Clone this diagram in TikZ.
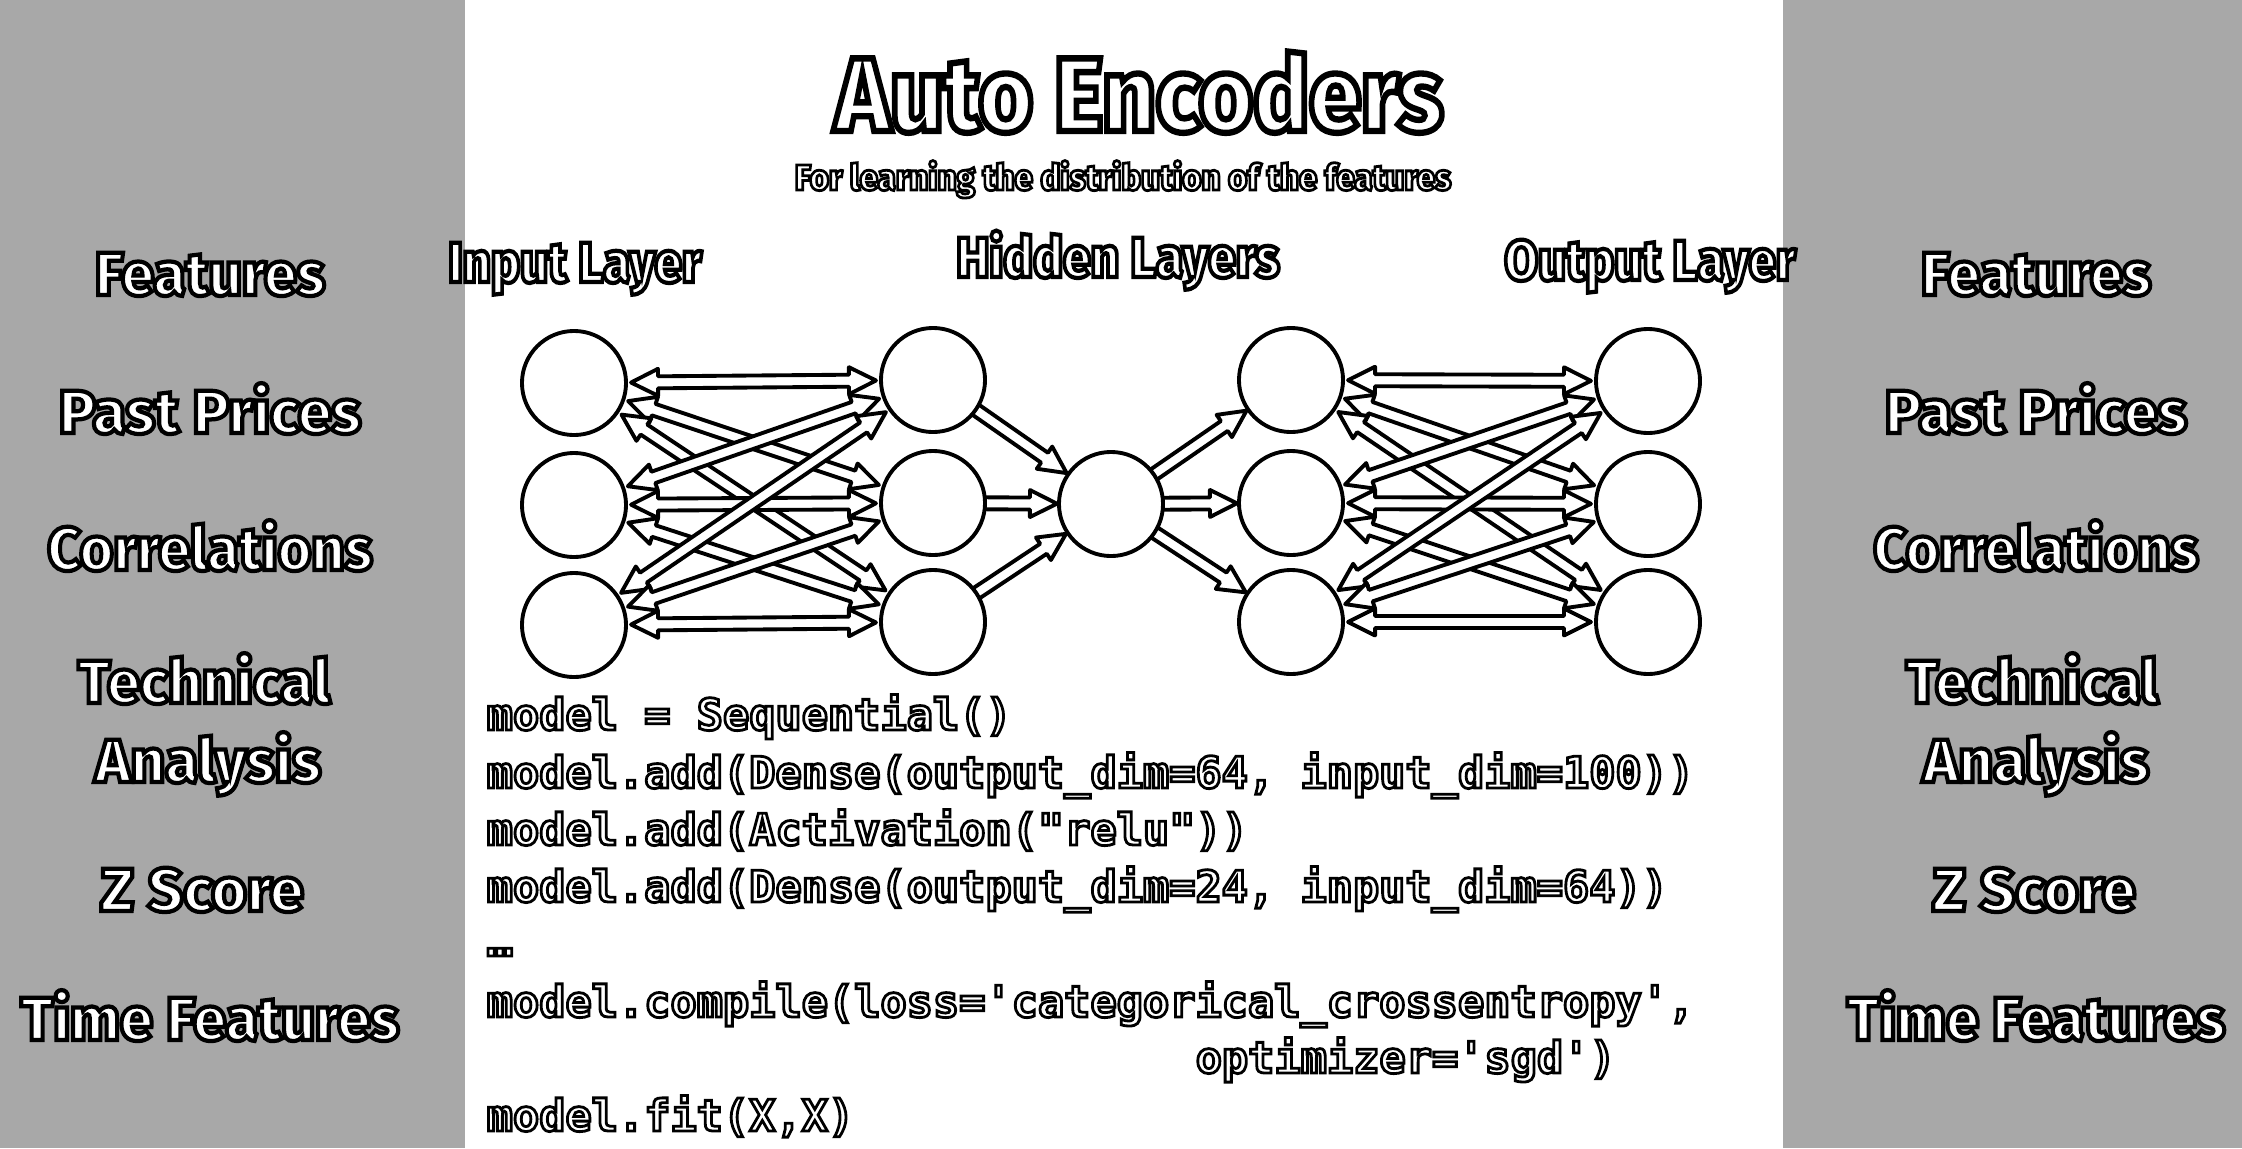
\documentclass[tikz,border=0pt]{standalone}
\usepackage{fontspec}
\usepackage{graphicx}
\usetikzlibrary{calc}
\IfFontExistsTF{Fira Sans Heavy}{%
  \newfontfamily\headfont{Fira Sans Heavy}\let\headweight\relax
}{%
  \IfFontExistsTF{Fira Sans ExtraBold}{%
    \newfontfamily\headfont{Fira Sans ExtraBold}\let\headweight\relax
  }{%
    \IfFontExistsTF{Lato Black}{%
      \newfontfamily\headfont{Lato Black}\let\headweight\relax
    }{%
      \newfontfamily\headfont{Fira Sans}\let\headweight\bfseries
    }%
  }%
}
\newfontfamily\codefont{DejaVu Sans Mono}
% outlined text: white fill, black stroke (text render mode 2)
\newcommand\olt[2]{\special{pdf:literal direct 2 Tr #1 w 0 G 1 g}#2\special{pdf:literal direct 0 Tr}}
\newcommand\fitw[2]{\resizebox{#1}{\height}{#2}}
\definecolor{panelgray}{gray}{0.66}
\pgfdeclarelayer{back}
\pgfdeclarelayer{arr}
\pgfsetlayers{back,arr,main}
\newcommand\arTip{0.57cm}
\newcommand\arHL{0.27cm}
\newcommand\arHW{0.135cm}
\newcommand\arSW{0.06cm}
\newcommand\arTail{0.50cm}
\newcommand\arTipS{0.54cm}
\tikzset{
  neuron/.style={circle, draw=black, fill=white, line width=1.1pt, minimum size=1.04cm, inner sep=0pt},
  arrowbody/.style={draw=black, fill=white, line width=1.1pt, line join=round},
  titletext/.style={text=white, anchor=base, inner sep=0pt, font=\headfont\headweight\fontsize{29.7}{34}\selectfont},
  subtext/.style={text=white, anchor=base, inner sep=0pt, font=\headfont\headweight\fontsize{10.2}{12}\selectfont},
  layertext/.style={text=white, anchor=base, inner sep=0pt, font=\headfont\headweight\fontsize{16.1}{19}\selectfont},
  sidetext/.style={text=white, anchor=base, inner sep=0pt, font=\headfont\headweight\fontsize{17.3}{20}\selectfont},
  codetext/.style={text=white, anchor=base west, inner sep=0pt, font=\codefont\bfseries\fontsize{12.4}{15}\selectfont},
}
% double-headed block arrow between two nodes
\newcommand\dblarr[2]{%
  \draw[arrowbody] ($(#1)!\arTip!(#2)$)
    -- ($(#1)!{\arTip+\arHL}!(#2)!\arHW!90:(#2)$)
    -- ($(#1)!{\arTip+\arHL}!(#2)!\arSW!90:(#2)$)
    -- ($(#2)!{\arTip+\arHL}!(#1)!\arSW!-90:(#1)$)
    -- ($(#2)!{\arTip+\arHL}!(#1)!\arHW!-90:(#1)$)
    -- ($(#2)!\arTip!(#1)$)
    -- ($(#2)!{\arTip+\arHL}!(#1)!\arHW!90:(#1)$)
    -- ($(#2)!{\arTip+\arHL}!(#1)!\arSW!90:(#1)$)
    -- ($(#1)!{\arTip+\arHL}!(#2)!\arSW!-90:(#2)$)
    -- ($(#1)!{\arTip+\arHL}!(#2)!\arHW!-90:(#2)$)
    -- cycle;}
% single-headed block arrow from #1 to #2
\newcommand\sglarr[2]{%
  \draw[arrowbody] ($(#1)!\arTail!(#2)!\arSW!90:(#2)$)
    -- ($(#2)!{\arTipS+\arHL}!(#1)!\arSW!-90:(#1)$)
    -- ($(#2)!{\arTipS+\arHL}!(#1)!\arHW!-90:(#1)$)
    -- ($(#2)!\arTipS!(#1)$)
    -- ($(#2)!{\arTipS+\arHL}!(#1)!\arHW!90:(#1)$)
    -- ($(#2)!{\arTipS+\arHL}!(#1)!\arSW!90:(#1)$)
    -- ($(#1)!\arTail!(#2)!\arSW!-90:(#2)$)
    -- cycle;}
\begin{document}
\begin{tikzpicture}[x=0.01cm, y=-0.01cm]
\useasboundingbox (0,0) rectangle (2242,1148);
\begin{pgfonlayer}{back}
  \fill[white] (0,0) rectangle (2242,1148);
  \fill[panelgray] (0,0) rectangle (465,1148);
  \fill[panelgray] (1783,0) rectangle (2242,1148);
\end{pgfonlayer}

% titles
\node[titletext] (title) at (1139,131) {\fitw{6.08cm}{\olt{1.8}{Auto Encoders}}};
\node[subtext] (subtitle) at (1123,190) {\fitw{6.56cm}{\olt{0.8}{For learning the distribution of the features}}};
\node[layertext] (linput) at (575,282) {\fitw{2.53cm}{\olt{1.2}{Input Layer}}};
\node[layertext] (lhidden) at (1118,277) {\fitw{3.23cm}{\olt{1.2}{Hidden Layers}}};
\node[layertext] (loutput) at (1650,280) {\fitw{2.91cm}{\olt{1.2}{Output Layer}}};

% left feature list
\node[sidetext] (lf1) at (210,295) {\fitw{2.30cm}{\olt{1.2}{Features}}};
\node[sidetext] (lf2) at (210,433) {\fitw{3.02cm}{\olt{1.2}{Past Prices}}};
\node[sidetext] (lf3) at (210,570) {\fitw{3.25cm}{\olt{1.2}{Correlations}}};
\node[sidetext] (lf4) at (204,703) {\fitw{2.52cm}{\olt{1.2}{Technical}}};
\node[sidetext] (lf5) at (208,782) {\fitw{2.26cm}{\olt{1.2}{Analysis}}};
\node[sidetext] (lf6) at (202,911) {\fitw{2.03cm}{\olt{1.2}{Z Score}}};
\node[sidetext] (lf7) at (210,1040) {\fitw{3.78cm}{\olt{1.2}{Time Features}}};

% right feature list
\node[sidetext] (rf1) at (2036,295) {\fitw{2.30cm}{\olt{1.2}{Features}}};
\node[sidetext] (rf2) at (2036,433) {\fitw{3.02cm}{\olt{1.2}{Past Prices}}};
\node[sidetext] (rf3) at (2036,570) {\fitw{3.25cm}{\olt{1.2}{Correlations}}};
\node[sidetext] (rf4) at (2032,703) {\fitw{2.52cm}{\olt{1.2}{Technical}}};
\node[sidetext] (rf5) at (2036,782) {\fitw{2.26cm}{\olt{1.2}{Analysis}}};
\node[sidetext] (rf6) at (2034,911) {\fitw{2.03cm}{\olt{1.2}{Z Score}}};
\node[sidetext] (rf7) at (2036,1040) {\fitw{3.78cm}{\olt{1.2}{Time Features}}};

% neurons
\node[neuron] (i1) at (574,383) {};
\node[neuron] (i2) at (574,505) {};
\node[neuron] (i3) at (574,625) {};
\node[neuron] (h1) at (933,380) {};
\node[neuron] (h2) at (933,503) {};
\node[neuron] (h3) at (933,622) {};
\node[neuron] (b)  at (1111,504) {};
\node[neuron] (k1) at (1291,380) {};
\node[neuron] (k2) at (1291,503) {};
\node[neuron] (k3) at (1291,622) {};
\node[neuron] (o1) at (1648,381) {};
\node[neuron] (o2) at (1648,504) {};
\node[neuron] (o3) at (1648,622) {};

\begin{pgfonlayer}{arr}
  \foreach \u in {1,2,3}{
    \foreach \v in {1,2,3}{
      \dblarr{i\u}{h\v}
      \dblarr{k\u}{o\v}
    }
    \sglarr{h\u}{b}
    \sglarr{b}{k\u}
  }
\end{pgfonlayer}

% code
\node[codetext] (c1) at (486,730) {\olt{0.8}{model = Sequential()}};
\node[codetext] (c2) at (486,788) {\olt{0.8}{model.add(Dense(output\_dim=64, input\_dim=100))}};
\node[codetext] (c3) at (486,845) {\olt{0.8}{model.add(Activation(\textquotedbl relu\textquotedbl))}};
\node[codetext] (c4) at (486,902) {\olt{0.8}{model.add(Dense(output\_dim=24, input\_dim=64))}};
\node[codetext] (c5) at (486,956) {\olt{0.8}{…}};
\node[codetext] (c6) at (486,1017) {\olt{0.8}{model.compile(loss=\textquotesingle categorical\_crossentropy\textquotesingle,}};
\node[codetext] (c7) at (1195,1073) {\olt{0.8}{optimizer=\textquotesingle sgd\textquotesingle)}};
\node[codetext] (c8) at (486,1131) {\olt{0.8}{model.fit(X,X)}};
\end{tikzpicture}
\end{document}
